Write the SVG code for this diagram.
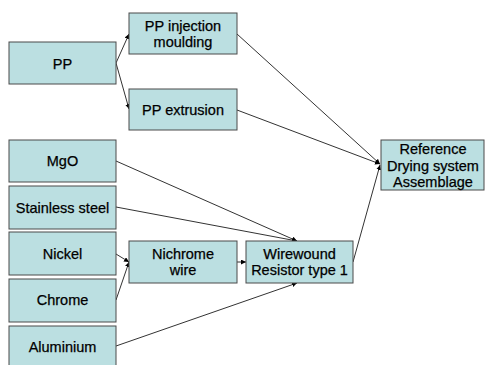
<svg xmlns="http://www.w3.org/2000/svg" width="485" height="365" viewBox="0 0 485 365">
  <style>
    .box { fill: #bbdfe1; stroke: #4a4a4a; stroke-width: 1; }
    .lbl { font-family: "Liberation Sans", Arial, sans-serif; font-size: 14.5px; fill: #000; stroke: #000; stroke-width: 0.25; text-anchor: middle; }
    .edge { fill: none; stroke: #333; stroke-width: 1; marker-end: url(#arrow); }
  </style>
  <defs>
    <marker id="arrow" viewBox="0 0 10 10" refX="10" refY="5" markerWidth="5" markerHeight="5" markerUnits="userSpaceOnUse" orient="auto">
      <path d="M0,0 L10,5 L0,10 z" fill="#000"/>
    </marker>
  </defs>
  <rect width="485" height="365" fill="#fff"/>

  <g id="connectors">
    <line class="edge" x1="116" y1="63" x2="129" y2="34"/>
    <line class="edge" x1="116" y1="63" x2="129" y2="109"/>
    <line class="edge" x1="237" y1="34" x2="380" y2="164"/>
    <line class="edge" x1="237" y1="110" x2="380" y2="164"/>
    <line class="edge" x1="116" y1="161" x2="297" y2="241"/>
    <line class="edge" x1="116" y1="207" x2="297" y2="241"/>
    <line class="edge" x1="116" y1="254" x2="129" y2="262"/>
    <line class="edge" x1="116" y1="300" x2="129" y2="262"/>
    <line class="edge" x1="237" y1="262" x2="246" y2="262"/>
    <line class="edge" x1="116" y1="346" x2="297" y2="283"/>
    <line class="edge" x1="353" y1="262" x2="380" y2="165"/>
  </g>

  <g id="node-pp">
    <rect class="box" x="9" y="42" width="107" height="42"/>
    <text class="lbl" x="62.5" y="69">PP</text>
  </g>
  <g id="node-pp-injection">
    <rect class="box" x="129" y="13" width="108" height="41"/>
    <text class="lbl" x="183" y="31">PP injection</text>
    <text class="lbl" x="183" y="47">moulding</text>
  </g>
  <g id="node-pp-extrusion">
    <rect class="box" x="129" y="89" width="108" height="41"/>
    <text class="lbl" x="183" y="115">PP extrusion</text>
  </g>
  <g id="node-mgo">
    <rect class="box" x="9" y="140" width="107" height="42"/>
    <text class="lbl" x="62.5" y="166">MgO</text>
  </g>
  <g id="node-stainless">
    <rect class="box" x="9" y="186" width="107" height="43"/>
    <text class="lbl" x="62.5" y="213">Stainless steel</text>
  </g>
  <g id="node-nickel">
    <rect class="box" x="9" y="232" width="107" height="43"/>
    <text class="lbl" x="62.5" y="259">Nickel</text>
  </g>
  <g id="node-chrome">
    <rect class="box" x="9" y="279" width="107" height="43"/>
    <text class="lbl" x="62.5" y="305">Chrome</text>
  </g>
  <g id="node-aluminium">
    <rect class="box" x="9" y="326" width="107" height="45"/>
    <text class="lbl" x="62.5" y="352">Aluminium</text>
  </g>
  <g id="node-nichrome">
    <rect class="box" x="129" y="241" width="108" height="42"/>
    <text class="lbl" x="183" y="259">Nichrome</text>
    <text class="lbl" x="183" y="275">wire</text>
  </g>
  <g id="node-wirewound">
    <rect class="box" x="246" y="241" width="107" height="42"/>
    <text class="lbl" x="299.5" y="259">Wirewound</text>
    <text class="lbl" x="299.5" y="275">Resistor type 1</text>
  </g>
  <g id="node-reference">
    <rect class="box" x="381" y="140" width="103" height="50"/>
    <text class="lbl" x="433" y="154">Reference</text>
    <text class="lbl" x="433" y="171">Drying system</text>
    <text class="lbl" x="433" y="187">Assemblage</text>
  </g>
</svg>
